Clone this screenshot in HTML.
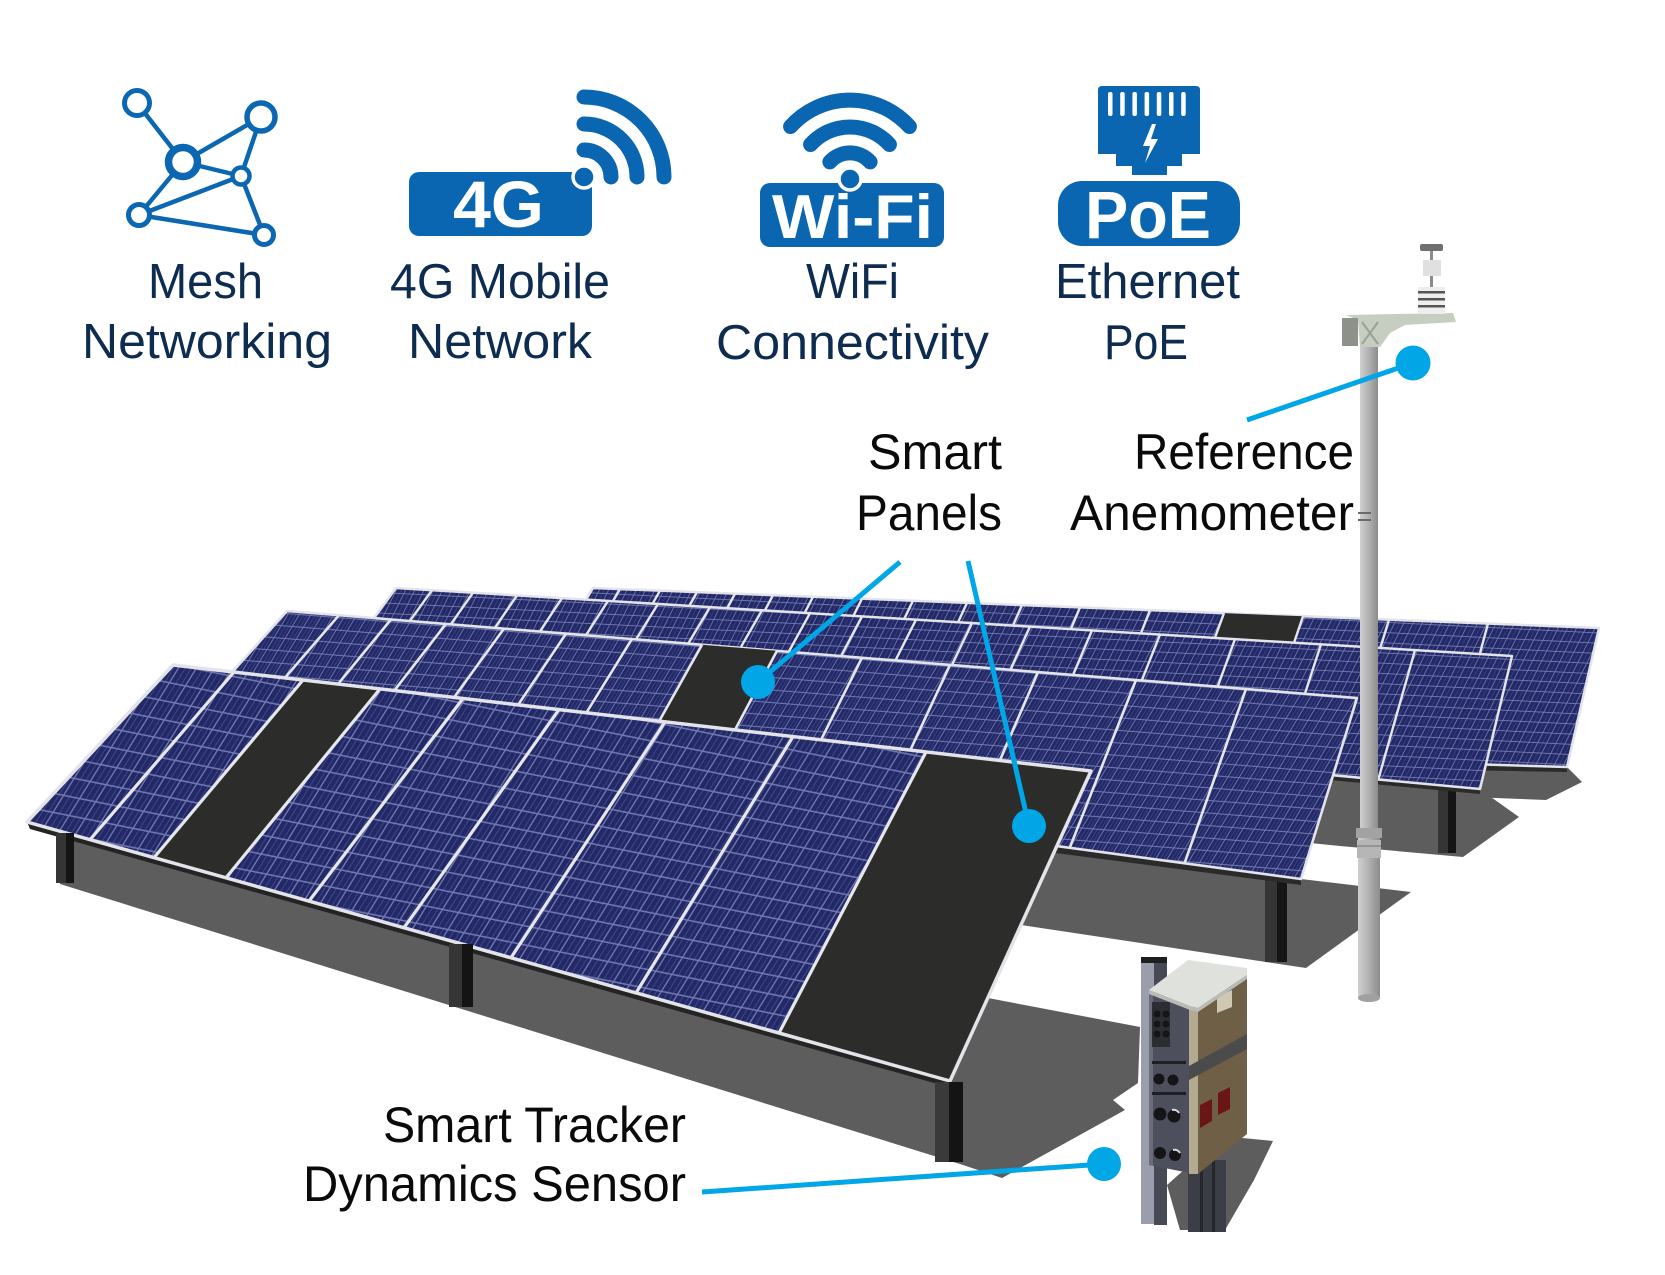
<!DOCTYPE html>
<html>
<head>
<meta charset="utf-8">
<style>
  html,body{margin:0;padding:0;background:#ffffff;}
  svg{display:block;}
  .lab{font-family:"Liberation Sans",Arial,sans-serif;}
</style>
</head>
<body>
<svg width="1665" height="1275" viewBox="0 0 1665 1275" xmlns="http://www.w3.org/2000/svg">
<defs>
  <pattern id="pA" width="16" height="17" patternUnits="userSpaceOnUse" patternTransform="matrix(1 0.2 -0.62 1 0 0)">
    <rect width="16" height="17" fill="#232966"/>
    <rect x="5" width="0.9" height="17" fill="#434b8f"/>
    <rect x="10.5" width="0.9" height="17" fill="#434b8f"/>
    <rect x="14.6" width="1.4" height="17" fill="#7178b0"/>
    <rect y="15.6" width="16" height="1.4" fill="#7178b0"/>
  </pattern>
  <pattern id="pB" width="11" height="12" patternUnits="userSpaceOnUse" patternTransform="matrix(1 0.08 -0.6 1 0 0)">
    <rect width="11" height="12" fill="#232966"/>
    <rect x="3.5" width="0.7" height="12" fill="#434b8f"/>
    <rect x="7" width="0.7" height="12" fill="#434b8f"/>
    <rect x="10" width="1" height="12" fill="#7178b0"/>
    <rect y="11" width="11" height="1" fill="#7178b0"/>
  </pattern>
  <pattern id="pC" width="9" height="10" patternUnits="userSpaceOnUse" patternTransform="matrix(1 0.05 -0.5 1 0 0)">
    <rect width="9" height="10" fill="#232966"/>
    <rect x="4" width="0.6" height="10" fill="#434b8f"/>
    <rect x="8.1" width="0.9" height="10" fill="#7178b0"/>
    <rect y="9.1" width="9" height="0.9" fill="#7178b0"/>
  </pattern>
  <linearGradient id="poleG" x1="0" y1="0" x2="1" y2="0">
    <stop offset="0" stop-color="#cfcfcf"/>
    <stop offset="0.45" stop-color="#b4b4b4"/>
    <stop offset="1" stop-color="#8c8c8c"/>
  </linearGradient>
</defs>

<!-- ===== SHADOWS ===== -->
<g fill="#5d5d5d">
  <polygon points="1480,765 1567,767 1582,782 1546,800 1469,797"/>
  <polygon points="1300,775 1481,790 1519,817 1463,857 1340,846 1300,842"/>
  <polygon points="1021,925 1056,847 1301,879 1411,892 1306,968"/>
  <polygon points="60,831 60,884 963,1165 1002,1178 1125,1110 1113,1100 1138,1083 1140,1027 988,998 950,1081"/>
  <polygon points="1167,1185 1222,1136 1273,1141 1254,1180 1225,1230 1180,1230"/>
</g>

<!-- legs of rows B, C -->
<rect x="1265" y="878" width="12" height="84" fill="#353535"/>
<rect x="1277" y="878" width="10" height="84" fill="#151515"/>
<rect x="1438" y="788" width="10" height="65" fill="#353535"/>
<rect x="1448" y="788" width="8" height="65" fill="#151515"/>

<!-- ===== ROW D ===== -->
<polygon points="1460,765 1567,767 1567,772 1460,770" fill="#2a2a2a"/>
<polygon points="593,588 1599,628 1567,767 505,735" fill="url(#pC)" stroke="#e3e4e9" stroke-width="2.5" stroke-linejoin="round"/>
<polygon points="1224,613.1 1303,616.3 1255.1,757.7 1171.7,755.1" fill="#2c2c2b"/>
<g stroke="#e6e7ec" stroke-width="2.4">
  <line x1="620" y1="589.1" x2="533.3" y2="736"/>
  <line x1="660" y1="590.7" x2="575.7" y2="737.3"/>
  <line x1="697" y1="592.1" x2="614.8" y2="738.4"/>
  <line x1="735" y1="593.7" x2="655" y2="739.6"/>
  <line x1="773" y1="595.2" x2="695.3" y2="740.8"/>
  <line x1="813" y1="596.8" x2="737.6" y2="742.1"/>
  <line x1="862" y1="598.7" x2="789.4" y2="743.6"/>
  <line x1="913" y1="600.7" x2="843.3" y2="745.3"/>
  <line x1="967" y1="602.9" x2="900.4" y2="747"/>
  <line x1="1022" y1="605.1" x2="958.5" y2="748.7"/>
  <line x1="1080" y1="607.4" x2="1019.7" y2="750.6"/>
  <line x1="1150" y1="610.2" x2="1093.7" y2="752.8"/>
  <line x1="1224" y1="613.1" x2="1171.7" y2="755.1"/>
  <line x1="1303" y1="616.3" x2="1255.1" y2="757.7"/>
  <line x1="1389" y1="619.7" x2="1345.8" y2="760.4"/>
  <line x1="1488" y1="623.6" x2="1450.1" y2="763.5"/>
</g>

<!-- ===== ROW C ===== -->
<polygon points="1330,775 1480,789 1480,794 1330,780" fill="#2a2a2a"/>
<polygon points="396,588 1512,656 1480,789 328,681" fill="url(#pC)" stroke="#e3e4e9" stroke-width="2.5" stroke-linejoin="round"/>
<g stroke="#e6e7ec" stroke-width="2.4">
  <line x1="432" y1="590.2" x2="364.4" y2="684.1"/>
  <line x1="473" y1="592.7" x2="406" y2="688.1"/>
  <line x1="517" y1="595.4" x2="450.9" y2="692.3"/>
  <line x1="562" y1="598.1" x2="496.7" y2="696.7"/>
  <line x1="608" y1="600.9" x2="543.7" y2="701.1"/>
  <line x1="658" y1="604" x2="594.8" y2="705.9"/>
  <line x1="710" y1="607.1" x2="648" y2="710.9"/>
  <line x1="762" y1="610.3" x2="701.4" y2="715.9"/>
  <line x1="810" y1="613.2" x2="750.8" y2="720.4"/>
  <line x1="862" y1="616.4" x2="804.3" y2="725.5"/>
  <line x1="916" y1="619.7" x2="859.9" y2="730.7"/>
  <line x1="972" y1="623.1" x2="917.8" y2="736.1"/>
  <line x1="1030" y1="626.6" x2="977.6" y2="741.8"/>
  <line x1="1092" y1="630.4" x2="1041.9" y2="747.8"/>
  <line x1="1160" y1="634.5" x2="1112.4" y2="754.4"/>
  <line x1="1235" y1="639.1" x2="1190.3" y2="761.8"/>
  <line x1="1321" y1="644.3" x2="1280.1" y2="770.2"/>
  <line x1="1415" y1="650.1" x2="1378.3" y2="779.4"/>
</g>

<!-- ===== ROW B ===== -->
<polygon points="1040,845 1301,879 1301,885 1040,851" fill="#2a2a2a"/>
<polygon points="287,611 1357,698 1301,879 182,728" fill="url(#pB)" stroke="#e3e4e9" stroke-width="2.6" stroke-linejoin="round"/>
<polygon points="702,644.7 777,650.8 698.9,797.8 622.1,787.3" fill="#2c2c2b"/>
<g stroke="#e6e7ec" stroke-width="2.6">
  <line x1="339" y1="615.2" x2="235.4" y2="735.1"/>
  <line x1="391" y1="619.5" x2="290" y2="742.6"/>
  <line x1="446" y1="623.9" x2="348" y2="750.4"/>
  <line x1="504" y1="628.6" x2="409.6" y2="758.6"/>
  <line x1="566" y1="633.7" x2="475.8" y2="767.6"/>
  <line x1="632" y1="639" x2="546.5" y2="777.1"/>
  <line x1="702" y1="644.7" x2="622.1" y2="787.3"/>
  <line x1="777" y1="650.8" x2="698.9" y2="797.8"/>
  <line x1="862" y1="657.7" x2="786.3" y2="809.5"/>
  <line x1="950" y1="664.9" x2="877" y2="821.7"/>
  <line x1="1038" y1="672.1" x2="968" y2="834.1"/>
  <line x1="1136" y1="680" x2="1069.7" y2="847.8"/>
  <line x1="1246" y1="689" x2="1184.5" y2="863.3"/>
</g>

<!-- ===== ROW A ===== -->
<polygon points="27,822 950,1081 952,1088 30,829" fill="#242424"/>
<polygon points="173,665 1091,771 950,1081 27,822" fill="url(#pA)"/>
<polygon points="303,680 380,688.9 226,877.8 154,857.6" fill="#2c2c2b"/>
<polygon points="926,752 1091,771 950,1081 779,1033" fill="#2c2c2b"/>
<g stroke="#e6e7ec" stroke-width="3.2">
  <line x1="234" y1="672" x2="90" y2="839.7"/>
  <line x1="303" y1="680" x2="154" y2="857.6"/>
  <line x1="380" y1="688.9" x2="226" y2="877.8"/>
  <line x1="463" y1="698.5" x2="309" y2="901.1"/>
  <line x1="559" y1="709.6" x2="404" y2="927.8"/>
  <line x1="665" y1="721.8" x2="511" y2="957.8"/>
  <line x1="793" y1="736.6" x2="636" y2="992.9"/>
  <line x1="926" y1="752" x2="779" y2="1033"/>
</g>
<polygon points="173,665 1091,771 950,1081 27,822" fill="none" stroke="#e3e4e9" stroke-width="3.5" stroke-linejoin="round"/>

<!-- Row A legs -->
<rect x="56" y="833" width="10" height="50" fill="#353535"/>
<rect x="66" y="833" width="8" height="50" fill="#141414"/>
<rect x="449" y="944" width="13" height="63" fill="#353535"/>
<rect x="462" y="944" width="11" height="63" fill="#141414"/>
<rect x="935" y="1082" width="14" height="80" fill="#3a3a3a"/>
<rect x="949" y="1082" width="14" height="80" fill="#141414"/>

<!-- ===== ANEMOMETER POLE ===== -->
<rect x="1360" y="318" width="18" height="520" fill="url(#poleG)"/>
<rect x="1358" y="838" width="22" height="160" fill="url(#poleG)"/>
<rect x="1356" y="828" width="26" height="10" fill="#a2a2a2"/>
<rect x="1357" y="840" width="24" height="18" fill="#b6b6b6"/>
<line x1="1357" y1="846" x2="1381" y2="846" stroke="#8a8a8a" stroke-width="1.5"/>
<ellipse cx="1369" cy="998" rx="11" ry="4" fill="#a0a0a0"/>
<line x1="1358" y1="513" x2="1371" y2="513" stroke="#6a6a6a" stroke-width="2"/>
<line x1="1358" y1="520" x2="1371" y2="520" stroke="#6a6a6a" stroke-width="2"/>
<!-- bracket -->
<polygon points="1346,315 1453,313 1456,322 1405,325 1390,333 1380,347 1360,347 1358,320" fill="#c6cec1"/>
<rect x="1342" y="318" width="16" height="28" fill="#8d918a"/>
<line x1="1362" y1="322" x2="1378" y2="344" stroke="#9aa295" stroke-width="2"/>
<line x1="1378" y1="322" x2="1362" y2="344" stroke="#9aa295" stroke-width="2"/>
<!-- sensor -->
<rect x="1430" y="248" width="3" height="42" fill="#8a8a8a"/>
<rect x="1420" y="244" width="23" height="7" rx="2" fill="#6f6f6f"/>
<rect x="1423" y="260" width="18" height="16" fill="#e0e0e0"/>
<rect x="1418" y="287" width="27" height="27" fill="#eeeeee"/>
<rect x="1418" y="291" width="27" height="2.5" fill="#555"/>
<rect x="1418" y="298" width="27" height="2.5" fill="#555"/>
<rect x="1418" y="305" width="27" height="2.5" fill="#555"/>

<!-- ===== JUNCTION BOX ===== -->
<rect x="1188" y="1160" width="38" height="72" fill="#3c3e47"/>
<rect x="1200" y="1160" width="3" height="72" fill="#26272d"/>
<rect x="1212" y="1160" width="3" height="72" fill="#26272d"/>
<rect x="1141" y="960" width="13" height="264" fill="#9a9dab"/>
<rect x="1154" y="962" width="13" height="263" fill="#474a55"/>
<rect x="1141" y="957" width="26" height="6" fill="#1e1e1e"/>
<!-- front face -->
<polygon points="1149,990 1190,1006 1190,1173 1149,1165" fill="#4d505c"/>
<polygon points="1149,990 1153,992 1153,1166 1149,1165" fill="#6a6d79"/>
<rect x="1152" y="1002" width="18" height="45" fill="#2c2d33"/>
<g fill="#151518">
  <circle cx="1157" cy="1014" r="3.5"/><circle cx="1166" cy="1014" r="3.5"/>
  <circle cx="1157" cy="1024" r="3.5"/><circle cx="1166" cy="1024" r="3.5"/>
  <circle cx="1157" cy="1034" r="3.5"/><circle cx="1166" cy="1034" r="3.5"/>
  <circle cx="1159" cy="1079" r="5.5"/><circle cx="1173" cy="1080" r="5.5"/>
  <circle cx="1160" cy="1114" r="6.5"/><circle cx="1174" cy="1116" r="6.5"/>
  <circle cx="1160" cy="1153" r="6"/><circle cx="1175" cy="1155" r="6"/>
</g>
<rect x="1152" y="1061" width="34" height="3" fill="#1e1f24"/>
<rect x="1152" y="1092" width="34" height="3" fill="#1e1f24"/>
<path d="M1172,1110 a6,6 0 0 1 7,3" stroke="#dddddd" stroke-width="2" fill="none"/>
<path d="M1173,1150 a6,6 0 0 1 7,3" stroke="#dddddd" stroke-width="2" fill="none"/>
<!-- side face -->
<polygon points="1189,1008 1247,975 1247,1134 1198,1174 1189,1174" fill="#6e5f46"/>
<polygon points="1189,1008 1198,1003 1198,1174 1189,1174" fill="#b3aa92"/>
<polygon points="1189,1066 1247,1034 1247,1049 1189,1080" fill="#4b4b4b"/>
<polygon points="1217,997 1232,990 1232,1007 1217,1013" fill="#cfc8b5"/>
<polygon points="1200,1105 1212,1099 1212,1121 1200,1128" fill="#6a1616"/>
<polygon points="1218,1093 1230,1087 1230,1109 1218,1115" fill="#6a1616"/>
<!-- top face -->
<polygon points="1149,990 1188,960 1247,968 1247,975 1198,1008 1190,1006" fill="#dfe1dc"/>
<polygon points="1149,990 1190,1006 1198,1008 1247,975 1247,979 1198,1012 1190,1010 1149,994" fill="#b9bbb6"/>

<!-- ===== CONNECTORS ===== -->
<g stroke="#00a6e6" stroke-width="5" stroke-linecap="butt" fill="none">
  <line x1="900" y1="562" x2="758" y2="682"/>
  <line x1="968" y1="561" x2="1029" y2="826"/>
  <line x1="1247" y1="420" x2="1413" y2="363"/>
  <line x1="702" y1="1192" x2="1104" y2="1164"/>
</g>
<g fill="#00a6e6">
  <circle cx="758" cy="682" r="17"/>
  <circle cx="1029" cy="826" r="17"/>
  <circle cx="1413" cy="363" r="17.5"/>
  <circle cx="1104" cy="1164" r="17"/>
</g>

<!-- ===== ICONS ===== -->
<!-- Mesh -->
<g stroke="#0b67b2" stroke-width="4.5" fill="none">
  <line x1="137" y1="103" x2="183" y2="162"/>
  <line x1="183" y1="162" x2="261" y2="117"/>
  <line x1="183" y1="162" x2="241" y2="176"/>
  <line x1="261" y1="117" x2="241" y2="176"/>
  <line x1="183" y1="162" x2="139" y2="215"/>
  <line x1="139" y1="215" x2="241" y2="176"/>
  <line x1="139" y1="215" x2="264" y2="235"/>
  <line x1="241" y1="176" x2="264" y2="235"/>
</g>
<g stroke="#0b67b2" fill="#ffffff">
  <circle cx="137" cy="103" r="12.5" stroke-width="5"/>
  <circle cx="261" cy="117" r="14" stroke-width="5.5"/>
  <circle cx="183" cy="162" r="14.5" stroke-width="7.5"/>
  <circle cx="241" cy="176" r="8.5" stroke-width="4.5"/>
  <circle cx="139" cy="215" r="10.5" stroke-width="5"/>
  <circle cx="264" cy="235" r="9.5" stroke-width="5"/>
</g>

<!-- 4G -->
<rect x="409" y="172" width="183" height="64" rx="10" fill="#0a66b0"/>
<text x="453" y="227" class="lab" font-size="66" font-weight="bold" fill="#ffffff" textLength="91" lengthAdjust="spacingAndGlyphs">4G</text>
<g stroke="#0a66b0" stroke-width="15" stroke-linecap="round" fill="none">
  <path d="M584,150 A27,27 0 0 1 611,177"/>
  <path d="M584,124 A53,53 0 0 1 637,177"/>
  <path d="M584,97 A80,80 0 0 1 664,177"/>
</g>
<circle cx="584" cy="177" r="11" fill="#0a66b0" stroke="#ffffff" stroke-width="3.5"/>

<!-- WiFi -->
<rect x="760" y="183" width="184" height="64" rx="10" fill="#0a66b0"/>
<text x="772" y="238" class="lab" font-size="62" font-weight="bold" fill="#ffffff" textLength="161" lengthAdjust="spacingAndGlyphs">Wi-Fi</text>
<g stroke="#0a66b0" stroke-width="15" stroke-linecap="round" fill="none">
  <path d="M829.9,161.9 A27,27 0 0 1 870.1,161.9"/>
  <path d="M810.6,144.5 A53,53 0 0 1 889.4,144.5"/>
  <path d="M790.6,126.5 A80,80 0 0 1 909.4,126.5"/>
</g>
<circle cx="850" cy="179" r="11" fill="#0a66b0" stroke="#ffffff" stroke-width="3.5"/>

<!-- PoE -->
<path d="M1102,86 L1196,86 Q1200,86 1200,90 L1200,154 L1182,154 L1182,166 L1167,166 L1167,175 L1132,175 L1132,166 L1116,166 L1116,154 L1098,154 L1098,90 Q1098,86 1102,86 Z" fill="#0a66b0"/>
<g fill="#ffffff">
  <rect x="1108" y="92" width="4.5" height="24" rx="2"/>
  <rect x="1120.2" y="92" width="4.5" height="24" rx="2"/>
  <rect x="1132.4" y="92" width="4.5" height="24" rx="2"/>
  <rect x="1144.6" y="92" width="4.5" height="24" rx="2"/>
  <rect x="1156.8" y="92" width="4.5" height="24" rx="2"/>
  <rect x="1169" y="92" width="4.5" height="24" rx="2"/>
  <rect x="1181.2" y="92" width="4.5" height="24" rx="2"/>
  <polygon points="1152,124 1143,146 1150,146 1145,163 1158,139 1151,139 1156,124"/>
</g>
<rect x="1058" y="181" width="182" height="65" rx="24" fill="#0a66b0"/>
<text x="1085" y="238" class="lab" font-size="67" font-weight="bold" fill="#ffffff" textLength="126" lengthAdjust="spacingAndGlyphs">PoE</text>

<!-- ===== TEXT LABELS ===== -->
<g class="lab" font-size="49" fill="#0d2c4f">
  <text x="148" y="298" textLength="115" lengthAdjust="spacingAndGlyphs">Mesh</text>
  <text x="82" y="358" textLength="250" lengthAdjust="spacingAndGlyphs">Networking</text>
  <text x="390" y="298" textLength="220" lengthAdjust="spacingAndGlyphs">4G Mobile</text>
  <text x="408" y="358" textLength="184" lengthAdjust="spacingAndGlyphs">Network</text>
  <text x="806" y="298" textLength="93" lengthAdjust="spacingAndGlyphs">WiFi</text>
  <text x="716" y="359" textLength="273" lengthAdjust="spacingAndGlyphs">Connectivity</text>
  <text x="1055" y="298" textLength="185" lengthAdjust="spacingAndGlyphs">Ethernet</text>
  <text x="1104" y="359" textLength="84" lengthAdjust="spacingAndGlyphs">PoE</text>
</g>
<g class="lab" font-size="50" fill="#0a0a0a">
  <text x="868" y="469" textLength="134" lengthAdjust="spacingAndGlyphs">Smart</text>
  <text x="856" y="530" textLength="146" lengthAdjust="spacingAndGlyphs">Panels</text>
  <text x="1134" y="469" textLength="220" lengthAdjust="spacingAndGlyphs">Reference</text>
  <text x="1070" y="530" textLength="284" lengthAdjust="spacingAndGlyphs">Anemometer</text>
  <text x="383" y="1142" textLength="303" lengthAdjust="spacingAndGlyphs">Smart Tracker</text>
  <text x="303" y="1201" textLength="383" lengthAdjust="spacingAndGlyphs">Dynamics Sensor</text>
</g>
</svg>
</body>
</html>
